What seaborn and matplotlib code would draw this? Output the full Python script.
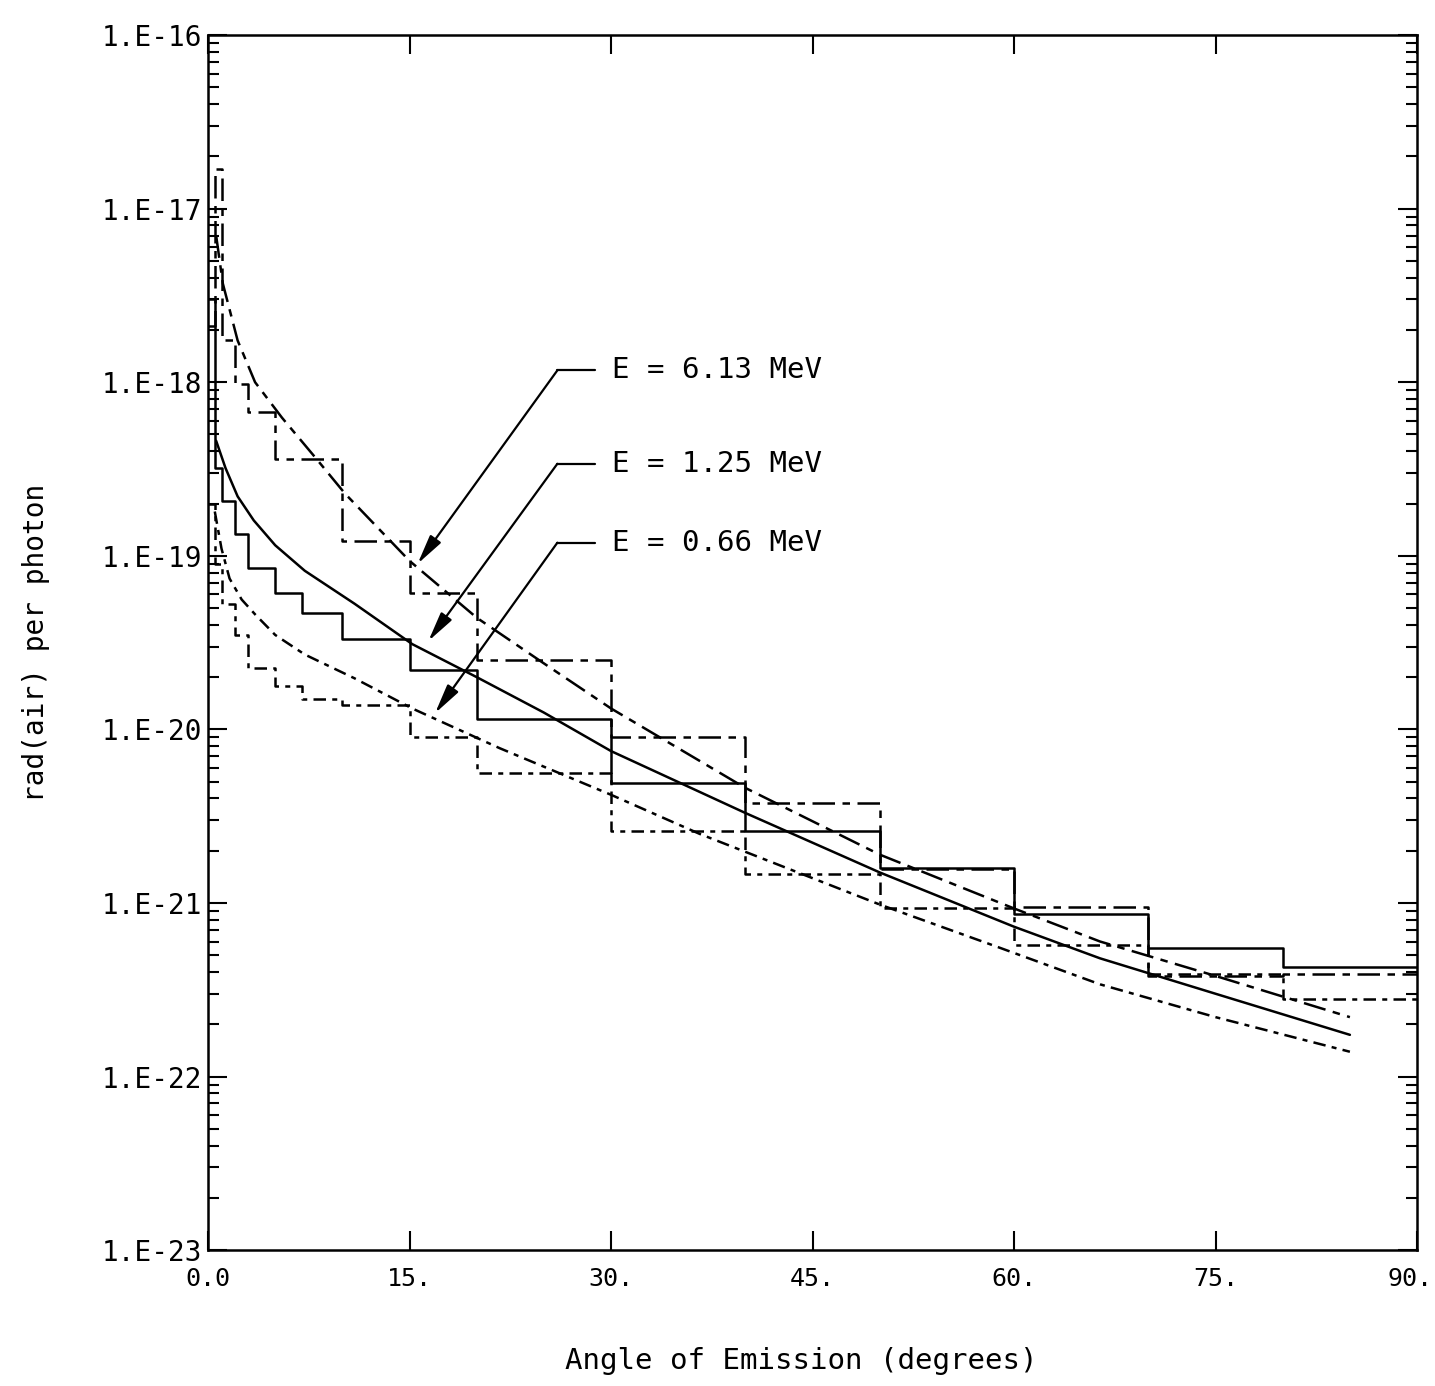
# %% IMPORTS
import matplotlib
matplotlib.use("Agg")
from matplotlib import ticker, transforms
import matplotlib.pyplot as plt
import numpy as np
import pandas as pd
import seaborn as sns

# %% DATA
# Histogram bin edges (degrees)
bin_edges = [0, 0.5, 1, 2, 3, 5, 7, 10, 15, 20, 30, 40, 50, 60, 70, 80, 90]

# Histogram values, rad(air) per photon, one per bin
hist_613 = [2.1e-18, 1.7e-17, 1.75e-18, 9.8e-19, 6.7e-19, 3.6e-19, 3.6e-19, 1.22e-19,
            6.1e-20, 2.5e-20, 9.1e-21, 3.75e-21, 1.58e-21, 9.5e-22, 3.8e-22, 3.9e-22]
hist_125 = [3.0e-18, 3.2e-19, 2.07e-19, 1.34e-19, 8.5e-20, 6.1e-20, 4.7e-20, 3.3e-20,
            2.2e-20, 1.15e-20, 4.9e-21, 2.6e-21, 1.6e-21, 8.6e-22, 5.5e-22, 4.3e-22]
hist_066 = [2.0e-19, 9.0e-20, 5.3e-20, 3.5e-20, 2.25e-20, 1.77e-20, 1.49e-20, 1.38e-20,
            9.0e-21, 5.6e-21, 2.6e-21, 1.46e-21, 9.3e-22, 5.75e-22, 3.9e-22, 2.8e-22]

# Calculated curves
curve_angle_613 = [0.6, 1.1, 2.2, 3.5, 5.5, 8, 10.2, 15, 20, 25, 30, 40, 50, 60, 66.4, 75, 85]
curve_613 = [7.0e-18, 3.7e-18, 1.74e-18, 1.0e-18, 6.25e-19, 3.67e-19, 2.28e-19, 9.35e-20,
             4.4e-20, 2.4e-20, 1.32e-20, 4.6e-21, 1.9e-21, 9.3e-22, 6.0e-22, 3.8e-22, 2.2e-22]
curve_angle_125 = [0.6, 1.3, 2.2, 3.4, 5, 7.2, 10.9, 15.2, 20, 25, 30, 40, 50, 60, 66.4, 75, 85]
curve_125 = [4.6e-19, 3.2e-19, 2.2e-19, 1.6e-19, 1.15e-19, 8.2e-20, 5.3e-20, 3.1e-20,
             2.0e-20, 1.25e-20, 7.5e-21, 3.3e-21, 1.5e-21, 7.3e-22, 4.8e-22, 3.0e-22, 1.74e-22]
curve_angle_066 = [0.5, 1.0, 1.6, 2.5, 3.5, 5, 7.2, 10.9, 15.2, 21.7, 30, 36.6, 50, 59, 66.4, 75, 85]
curve_066 = [1.8e-19, 1.1e-19, 7.4e-20, 5.6e-20, 4.6e-20, 3.5e-20, 2.7e-20, 1.97e-20, 1.32e-20,
             7.8e-21, 4.2e-21, 2.5e-21, 9.8e-22, 5.5e-22, 3.4e-22, 2.2e-22, 1.39e-22]

# Labels: text, elbow value, arrow tip angle, arrow tip value
labels = ["E = 6.13 MeV", "E = 1.25 MeV", "E = 0.66 MeV"]
label_values = [1.17e-18, 3.39e-19, 1.19e-19]
tip_angles = [15.6, 16.4, 16.9]
tip_values = [9.0e-20, 3.23e-20, 1.24e-20]

x_ticks = [0, 15, 30, 45, 60, 75, 90]
x_tick_labels = ["0.0", "15.", "30.", "45.", "60.", "75.", "90."]
y_exponents = [-23, -22, -21, -20, -19, -18, -17, -16]

# %% STYLE
sns.set_style("ticks", {"axes.edgecolor": "black", "text.color": "black",
                        "xtick.color": "black", "ytick.color": "black",
                        "axes.labelcolor": "black"})
plt.rcParams["font.family"] = ["DejaVu Sans Mono"]

dash_613 = (0, (9, 3, 3, 3))
dash_066 = (0, (5, 2.5, 2, 2.5))
styles = [dash_613, "-", dash_066]
lw = 1.8

# %% PLOT
fig = plt.figure(figsize=(14.35, 13.86), dpi=100)
ax = fig.add_axes([0.145, 0.098, 0.8425, 0.8767])

# Monte Carlo histograms
for hist, ls in zip([hist_613, hist_125, hist_066], styles):
    df = pd.DataFrame({"angle": bin_edges, "dose": hist + [hist[-1]]})
    sns.lineplot(data=df, x="angle", y="dose", drawstyle="steps-post", color="black",
                 linestyle=ls, linewidth=lw, ax=ax, sort=False, estimator=None)

# Calculated curves
for angles, curve, ls in zip([curve_angle_613, curve_angle_125, curve_angle_066],
                             [curve_613, curve_125, curve_066], styles):
    df = pd.DataFrame({"angle": angles, "dose": curve})
    sns.lineplot(data=df, x="angle", y="dose", color="black", linestyle=ls,
                 linewidth=lw, ax=ax, sort=False, estimator=None)

# Labels with leader lines and arrows
for text, yv, tx, ty in zip(labels, label_values, tip_angles, tip_values):
    ax.plot([26.0, 28.8], [yv, yv], color="black", linewidth=1.6)
    ax.annotate("", xy=(tx, ty), xytext=(26.0, yv),
                arrowprops=dict(arrowstyle="-|>,head_length=0.9,head_width=0.2",
                                color="black", linewidth=1.6, shrinkA=0, shrinkB=0,
                                mutation_scale=20))
    ax.text(30.1, yv, text, ha="left", va="center", fontsize=21, color="black")

# Axes
ax.set_yscale("log")
ax.set_xlim(0, 90)
ax.set_ylim(1e-23, 1e-16)
ax.set_xticks(x_ticks)
ax.set_xticklabels(x_tick_labels)

# Decade ticks with "1.E-nn" labels, minor ticks at 2..9 inside the view only
y_ticks = [10.0 ** e for e in y_exponents]
ax.set_yticks(y_ticks)
ax.set_yticklabels([f"1.E{e}" for e in y_exponents])
minor_ticks = [m * 10.0 ** e for e in y_exponents[:-1] for m in range(2, 10)]
ax.yaxis.set_minor_locator(ticker.FixedLocator(minor_ticks))
ax.yaxis.set_minor_formatter(ticker.NullFormatter())

ax.tick_params(axis="both", which="both", direction="in", top=True, right=True,
               width=1.5, color="black", labelcolor="black")
ax.tick_params(axis="y", which="major", length=14, pad=4, labelsize=20)
ax.tick_params(axis="y", which="minor", length=8, labelleft=False)
ax.tick_params(axis="x", which="major", length=14, pad=12, labelsize=18)
for spine in ax.spines.values():
    spine.set_linewidth(1.8)
    spine.set_color("black")

# Keep the last x tick label inside the figure
last = ax.get_xticklabels()[-1]
last.set_transform(last.get_transform()
                   + transforms.ScaledTranslation(-0.07, 0, fig.dpi_scale_trans))

ax.set_xlabel("Angle of Emission (degrees)", fontsize=21, color="black")
ax.set_ylabel("rad(air) per photon", fontsize=20, color="black")
ax.xaxis.set_label_coords(0.491, -0.08)
ax.yaxis.set_label_coords(-0.131, 0.5)

fig.savefig("out.png", dpi=100)
